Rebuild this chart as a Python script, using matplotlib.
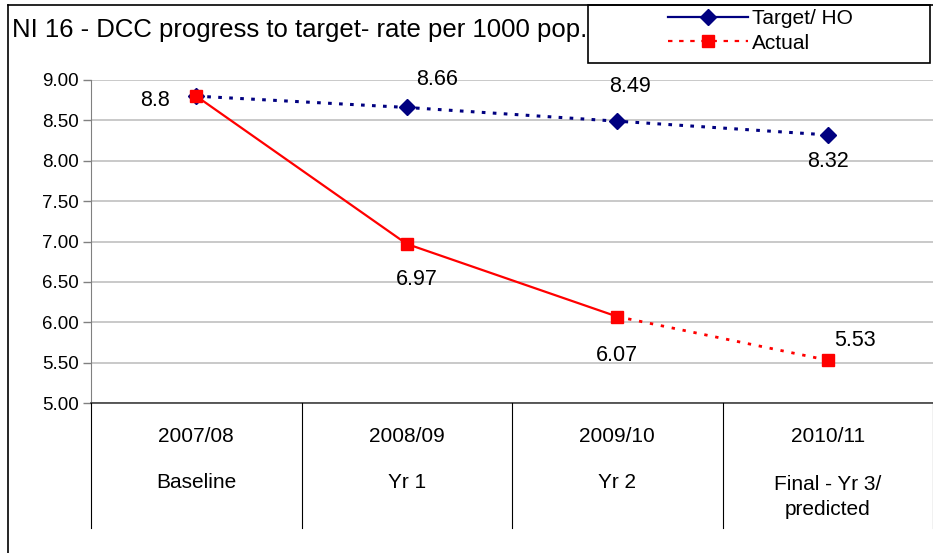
import matplotlib.pyplot as plt
from matplotlib.lines import Line2D
from matplotlib.patches import Rectangle

plt.rcParams['font.family'] = ['Liberation Sans', 'DejaVu Sans']

# data
years = ['2007/08', '2008/09', '2009/10', '2010/11']
stages = ['Baseline', 'Yr 1', 'Yr 2', 'Final - Yr 3/\npredicted']
target = [8.8, 8.66, 8.49, 8.32]
actual = [8.8, 6.97, 6.07, 5.53]
target_labels = ['8.8', '8.66', '8.49', '8.32']
actual_labels = ['', '6.97', '6.07', '5.53']
# label offsets in pixels (dx, dy)
target_offsets = [(-41, -4), (30, 28), (13, 35), (0, -27)]
actual_offsets = [(0, 0), (10, -36), (0, -39), (27, 20)]

W, H = 933, 553
fig = plt.figure(figsize=(W / 100, H / 100), dpi=100)

def fx(px):
    return px / W

def fy(py):
    return 1 - py / H

ax = fig.add_axes([fx(91), fy(403), fx(933) - fx(91), fy(80) - fy(403)])
x = list(range(len(years)))

navy = '#000080'
red = '#ff0000'
ax.plot(x, target, color=navy, linestyle=(0, (1.2, 2.4)), linewidth=2.2,
        marker='D', markersize=8, markerfacecolor=navy, markeredgecolor=navy, zorder=3)
ax.plot(x[:3], actual[:3], color=red, linewidth=1.6, zorder=4)
ax.plot(x[2:], actual[2:], color=red, linestyle=(0, (1.2, 2.8)), linewidth=2.0, zorder=4)
ax.plot(x, actual, linestyle='none', marker='s', markersize=9,
        markerfacecolor=red, markeredgecolor=red, zorder=5)

for i in x:
    ax.annotate(target_labels[i], (i, target[i]), xytext=target_offsets[i],
                textcoords='offset pixels', ha='center', va='center', fontsize=15.5)
    if actual_labels[i]:
        ax.annotate(actual_labels[i], (i, actual[i]), xytext=actual_offsets[i],
                    textcoords='offset pixels', ha='center', va='center', fontsize=15.5)

ax.set_xlim(-0.5, 3.5)
ax.set_ylim(5.0, 9.0)
ax.set_yticks([5.0, 5.5, 6.0, 6.5, 7.0, 7.5, 8.0, 8.5, 9.0])
ax.set_yticklabels(['%.2f' % v for v in ax.get_yticks()], fontsize=13.5)
ax.set_xticks([])
ax.grid(axis='y', color='#c0c0c0', linewidth=1.2)
ax.set_axisbelow(True)
ax.tick_params(axis='y', length=6, width=1, color='#808080', pad=3)
for s in ['top', 'right']:
    ax.spines[s].set_visible(False)
ax.spines['left'].set_color('#808080')
ax.spines['bottom'].set_color('#404040')
ax.spines['bottom'].set_linewidth(1.2)

# category table under the axis
for k in range(len(years) + 1):
    xp = 91 + k * 210.5
    fig.add_artist(Line2D([fx(xp), fx(xp)], [fy(403), fy(528)], color='black', linewidth=0.8))
for i in x:
    cx = 91 + (i + 0.5) * 210.5
    fig.text(fx(cx), fy(437), years[i], ha='center', va='center', fontsize=15)
    fig.text(fx(cx), fy(482 + (15 if '\n' in stages[i] else 0)), stages[i],
             ha='center', va='center', fontsize=15, linespacing=1.45)

# outer border, title and legend box
fig.add_artist(Line2D([fx(8), fx(933)], [fy(5), fy(5)], color='black', linewidth=1.2))
fig.add_artist(Line2D([fx(8), fx(8)], [fy(5), fy(553)], color='black', linewidth=1.2))
fig.text(fx(12), fy(30), 'NI 16 - DCC progress to target- rate per 1000 pop.',
         ha='left', va='center', fontsize=18.5)
fig.add_artist(Rectangle((fx(588), fy(63)), fx(930) - fx(588), fy(5) - fy(63),
                         fill=False, edgecolor='black', linewidth=1.2))

handles = [
    Line2D([], [], color=navy, linewidth=1.6, marker='D', markersize=8),
    Line2D([], [], color=red, linewidth=1.6, linestyle=(0, (2, 3)), marker='s', markersize=9),
]
fig.legend(handles, ['Target/ HO', 'Actual'], loc='center left',
           bbox_to_anchor=(fx(658), fy(31)), frameon=False, fontsize=15,
           handlelength=3.8, handletextpad=0.2, labelspacing=0.25, borderpad=0)

fig.savefig('out.png', dpi=100)
